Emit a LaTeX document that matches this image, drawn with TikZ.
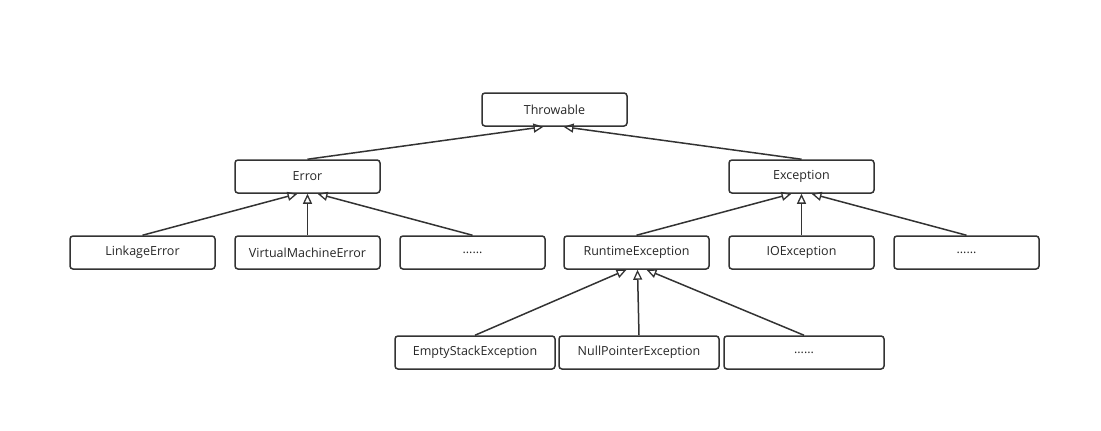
\documentclass[tikz,border=0pt]{standalone}
\usepackage{fontspec}
\setmainfont{Open Sans}
\usetikzlibrary{arrows.meta}
\begin{document}
\begin{tikzpicture}[x=1pt,y=-1pt,
  box/.style={draw=black!80,line width=1.5pt,rounded corners=3pt,minimum width=145pt,minimum height=33pt,inner sep=0pt,font=\fontsize{12.5}{14}\selectfont,text=black!85},
  wbox/.style={box,minimum width=160pt},
  inh/.style={draw=black!80,line width=1.5pt,-{Triangle[open,length=10pt,width=9pt,line width=1.3pt]}}]
\useasboundingbox (0,0) rectangle (1101,431);
\node[box] (thr) at (554.5,109.5) {Throwable};
\node[box] (err) at (307.5,176.5) {Error};
\node[box] (exc) at (801.5,176.5) {Exception};
\node[box] (lnk) at (142.5,252.5) {LinkageError};
\node[box] (vme) at (307.5,252.5) {VirtualMachineError};
\node[box] (ed) at (472.5,252.5) {......};
\node[box] (rte) at (636.5,252.5) {RuntimeException};
\node[box] (ioe) at (801.5,252.5) {IOException};
\node[box] (xd) at (966.5,252.5) {......};
\node[wbox] (ese) at (475,352.5) {EmptyStackException};
\node[wbox] (npe) at (639,352.5) {NullPointerException};
\node[wbox] (rd) at (804,352.5) {......};
\draw[inh] (err.north) -- ([xshift=-11pt]thr.south);
\draw[inh] (exc.north) -- ([xshift=9pt]thr.south);
\draw[inh] (lnk.north) -- ([xshift=-10pt]err.south);
\draw[inh] (vme.north) -- (err.south);
\draw[inh] (ed.north) -- ([xshift=10pt]err.south);
\draw[inh] (rte.north) -- ([xshift=-10pt]exc.south);
\draw[inh] (ioe.north) -- (exc.south);
\draw[inh] (xd.north) -- ([xshift=10pt]exc.south);
\draw[inh] (ese.north) -- ([xshift=-10pt]rte.south);
\draw[inh] (npe.north) -- ([xshift=1pt]rte.south);
\draw[inh] (rd.north) -- ([xshift=10pt]rte.south);
\end{tikzpicture}
\end{document}
